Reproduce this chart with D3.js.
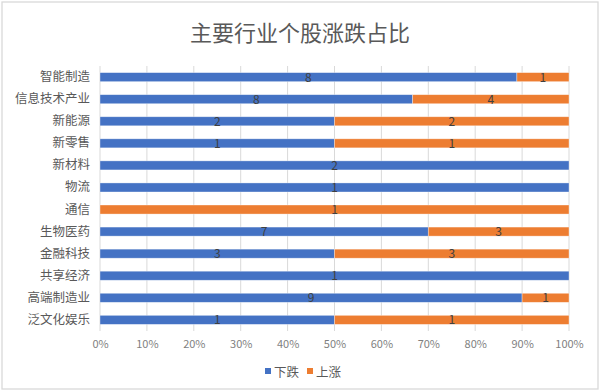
<!DOCTYPE html>
<html><head><meta charset="utf-8">
<script src="https://cdn.jsdelivr.net/npm/d3@7/dist/d3.min.js"></script>
<style>body{margin:0;background:#fff;}svg{display:block;font-family:"Noto Sans CJK SC","Noto Sans",sans-serif;}</style>
</head><body>
<svg id="c" width="600" height="392"></svg>
<script>
const categories = ["智能制造","信息技术产业","新能源","新零售","新材料","物流","通信","生物医药","金融科技","共享经济","高端制造业","泛文化娱乐"];
const downValues = [8,8,2,1,2,1,0,7,3,1,9,1];
const upValues   = [1,4,2,1,0,0,1,3,3,0,1,1];
const seriesNames = ["下跌","上涨"];
const seriesColors = ["#4472C4","#ED7D31"];
const tickValues = [0,0.1,0.2,0.3,0.4,0.5,0.6,0.7,0.8,0.9,1];

(function(){
const svg = d3.select("#c");
svg.append("rect").attr("x",2).attr("y",2).attr("width",596).attr("height",387)
  .attr("fill","#fff").attr("stroke","#d9d9d9").attr("stroke-width",1.3);

svg.append("text").attr("x",300).attr("y",41).attr("text-anchor","middle")
  .attr("font-size",22).attr("fill","#595959").text("主要行业个股涨跌占比");

const pL=100, pR=569, pT=66, pB=331;
const x = d3.scaleLinear().domain([0,1]).range([pL,pR]);
const y = d3.scaleBand().domain(categories).range([pT,pB]).paddingInner(0.59).paddingOuter(0.3);

svg.append("g").selectAll("line").data(tickValues).join("line")
  .attr("x1",d=>x(d)).attr("x2",d=>x(d)).attr("y1",pT).attr("y2",pB)
  .attr("stroke","#d9d9d9").attr("stroke-width",1);

const rows = categories.map((c,i)=>{
  const t = downValues[i]+upValues[i];
  return {c, segs:[
    {k:0, v:downValues[i], x0:0, x1:downValues[i]/t},
    {k:1, v:upValues[i], x0:downValues[i]/t, x1:1}
  ]};
});

const g = svg.append("g");
rows.forEach(r=>{
  r.segs.filter(s=>s.v>0).forEach(s=>{
    g.append("rect").attr("x",x(s.x0)).attr("width",x(s.x1)-x(s.x0))
      .attr("y",y(r.c)).attr("height",y.bandwidth())
      .attr("fill",seriesColors[s.k]).attr("stroke","#ffffff").attr("stroke-opacity",0.5).attr("stroke-width",0.7);
  });
});
rows.forEach(r=>{
  r.segs.filter(s=>s.v>0).forEach(s=>{
    g.append("text").attr("x",x((s.x0+s.x1)/2)).attr("y",y(r.c)+y.bandwidth()/2+4.5)
      .attr("text-anchor","middle").attr("font-size",12).attr("fill","#404040").text(s.v);
  });
});

const ya = svg.append("g").attr("transform",`translate(${pL},0)`)
  .call(d3.axisLeft(y).tickSize(0).tickPadding(10));
ya.select(".domain").remove();
ya.selectAll("text").attr("font-size",12.5).attr("fill","#595959").attr("font-family","Noto Sans CJK SC");

const xa = svg.append("g").attr("transform",`translate(0,${pB})`)
  .call(d3.axisBottom(x).tickValues(tickValues).tickFormat(d3.format(".0%")).tickSize(0).tickPadding(9));
xa.select(".domain").remove();
xa.selectAll("text").attr("font-size",11).attr("fill","#7f7f7f").attr("font-family","Noto Sans CJK SC");

const lg = svg.append("g");
const lx = [265,307];
seriesNames.forEach((n,i)=>{
  lg.append("rect").attr("x",lx[i]).attr("y",368).attr("width",6).attr("height",6).attr("fill",seriesColors[i]);
  lg.append("text").attr("x",lx[i]+9).attr("y",376.5).attr("font-size",12.5).attr("fill","#595959").text(n);
});
})();
</script>
</body></html>
